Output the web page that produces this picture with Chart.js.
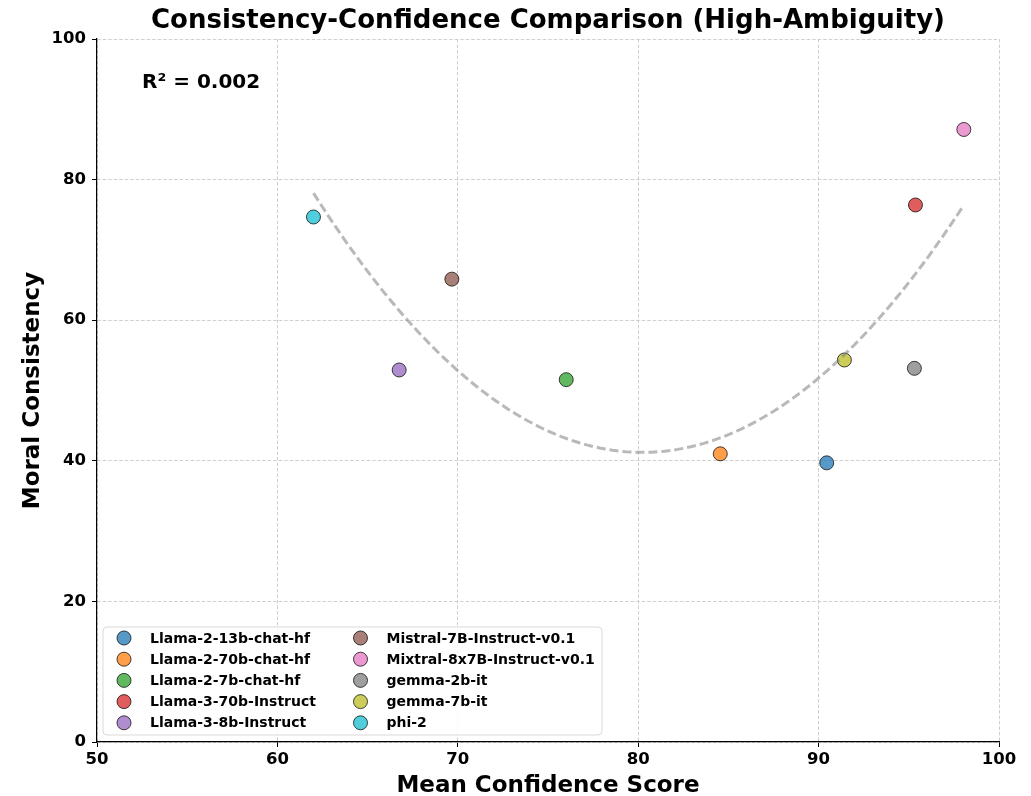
<!DOCTYPE html>
<html><head><meta charset="utf-8">
<script src="https://cdn.jsdelivr.net/npm/chart.js@4.4.1/dist/chart.umd.min.js"></script>
<style>html,body{margin:0;padding:0;background:#fff;} canvas{display:block;}</style>
</head><body>
<canvas id="c" width="1031" height="796"></canvas>
<script>
const models = ['Llama-2-13b-chat-hf','Llama-2-70b-chat-hf','Llama-2-7b-chat-hf','Llama-3-70b-Instruct','Llama-3-8b-Instruct',
  'Mistral-7B-Instruct-v0.1','Mixtral-8x7B-Instruct-v0.1','gemma-2b-it','gemma-7b-it','phi-2'];
const confidence = [90.45, 84.55, 76.01, 95.37, 66.75, 69.67, 98.05, 95.31, 91.43, 62.0];
const consistency = [39.71, 40.99, 51.54, 76.39, 52.92, 65.84, 87.13, 53.15, 54.34, 74.68];
const colors = ['#1f77b4','#ff7f0e','#2ca02c','#d62728','#9467bd','#8c564b','#e377c2','#7f7f7f','#bcbd22','#17becf'];
const xTicks = [50,60,70,80,90,100];
const yTicks = [0,20,40,60,80,100];
const titleText = 'Consistency-Confidence Comparison (High-Ambiguity)';
const xLabel = 'Mean Confidence Score';
const yLabel = 'Moral Consistency';
const r2Label = 'R² = 0.002';

function rgba(hex,a){const n=parseInt(hex.slice(1),16);return `rgba(${n>>16},${(n>>8)&255},${n&255},${a})`;}

// quadratic least-squares fit of the data (trend line)
function quadFit(xs, ys){
  const m = xs.reduce((a,b)=>a+b,0)/xs.length;
  const S=[0,0,0,0,0], T=[0,0,0];
  xs.forEach((x,i)=>{const u=x-m;let p=1;for(let k=0;k<5;k++){S[k]+=p;if(k<3)T[k]+=p*ys[i];p*=u;}});
  const A=[[S[0],S[1],S[2],T[0]],[S[1],S[2],S[3],T[1]],[S[2],S[3],S[4],T[2]]];
  for(let i=0;i<3;i++){for(let j=i+1;j<3;j++){const f=A[j][i]/A[i][i];for(let k=i;k<4;k++)A[j][k]-=f*A[i][k];}}
  const c=[0,0,0];
  for(let i=2;i>=0;i--){let s=A[i][3];for(let k=i+1;k<3;k++)s-=A[i][k]*c[k];c[i]=s/A[i][i];}
  return x=>{const u=x-m;return c[0]+c[1]*u+c[2]*u*u;};
}
const f = quadFit(confidence, consistency);
const xmin = Math.min(...confidence), xmax = Math.max(...confidence);
const trend = [];
for(let i=0;i<=100;i++){const x=xmin+(xmax-xmin)*i/100;trend.push({x, y:f(x)});}

const FONT = "'DejaVu Sans', sans-serif";
const datasets = models.map((m,i)=>({
  type:'scatter', label:m, data:[{x:confidence[i], y:consistency[i]}],
  backgroundColor: rgba(colors[i],0.75), borderColor:'rgba(0,0,0,0.72)', borderWidth:1,
  pointRadius:7, pointHoverRadius:7, order:1
}));
datasets.push({type:'line', label:'trend', data:trend, borderColor:'rgba(128,128,128,0.55)', borderWidth:3,
  borderDash:[9,4], pointRadius:0, fill:false, tension:0, order:0});

const extras = {
  id:'extras',
  afterDatasetsDraw(chart){
    const {ctx, chartArea:a} = chart;
    ctx.save();
    // R² annotation
    ctx.fillStyle='#000';
    ctx.font = `bold 20px ${FONT}`;
    ctx.textBaseline='top'; ctx.textAlign='left';
    ctx.fillText(r2Label, a.left + 0.05*(a.right-a.left), a.top + 0.05*(a.bottom-a.top) - 1);
    // legend (2 columns, column-major)
    const bx = a.left + 6, bw = 499, bh = 108, by = a.bottom - 7 - bh;
    ctx.beginPath();
    ctx.roundRect(bx, by, bw, bh, 4);
    ctx.fillStyle='rgba(255,255,255,0.85)'; ctx.fill();
    ctx.strokeStyle='#d9d9d9'; ctx.lineWidth=1; ctx.stroke();
    ctx.font = `bold 14px ${FONT}`; ctx.textBaseline='middle';
    const colX = [bx+21, bx+257.5];
    models.forEach((m,i)=>{
      const col = Math.floor(i/5), row = i%5;
      const cx = colX[col], cy = by + 11 + row*21.2;
      ctx.beginPath(); ctx.arc(cx, cy, 7, 0, Math.PI*2);
      ctx.fillStyle = rgba(colors[i],0.75); ctx.fill();
      ctx.strokeStyle='rgba(0,0,0,0.72)'; ctx.lineWidth=1; ctx.stroke();
      ctx.fillStyle='#000'; ctx.fillText(m, cx + 26, cy + 1);
    });
    ctx.restore();
  }
};

const gridCommon = {color:'#cacaca', lineWidth:0.9, tickColor:'#000', tickLength:5, tickWidth:1, tickBorderDash:[]};
new Chart(document.getElementById('c'), {
  data:{datasets},
  options:{
    responsive:false, animation:false, devicePixelRatio:1,
    layout:{padding:{left:0, right:32, top:0, bottom:0}},
    plugins:{
      legend:{display:false}, tooltip:{enabled:false},
      title:{display:true, text:titleText, fullSize:false, color:'#000',
        font:{family:FONT, size:26, weight:'bold', lineHeight:1.2}, padding:{top:5.5, bottom:2.3}}
    },
    scales:{
      x:{type:'linear', min:50, max:100,
        afterBuildTicks:s=>{s.ticks = xTicks.map(v=>({value:v}));},
        afterFit:s=>{s.height = 54;},
        grid:gridCommon, border:{display:true, color:'#000', width:1.2, dash:[3.5,2]},
        ticks:{color:'#000', padding:3, font:{family:FONT, size:16.5, weight:'bold'}},
        title:{display:true, text:xLabel, color:'#000', font:{family:FONT, size:23, weight:'bold', lineHeight:0.9}, padding:{top:0,bottom:0}}
      },
      y:{type:'linear', min:0, max:100,
        afterBuildTicks:s=>{s.ticks = yTicks.map(v=>({value:v}));},
        afterFit:s=>{s.width = 97;},
        grid:gridCommon, border:{display:true, color:'#000', width:1.2, dash:[3.5,2]},
        ticks:{color:'#000', padding:6, font:{family:FONT, size:16.5, weight:'bold'}},
        title:{display:true, text:yLabel, color:'#000', font:{family:FONT, size:23, weight:'bold', lineHeight:1.2}, padding:{top:19,bottom:0}}
      }
    }
  },
  plugins:[extras]
});
</script>
</body></html>
